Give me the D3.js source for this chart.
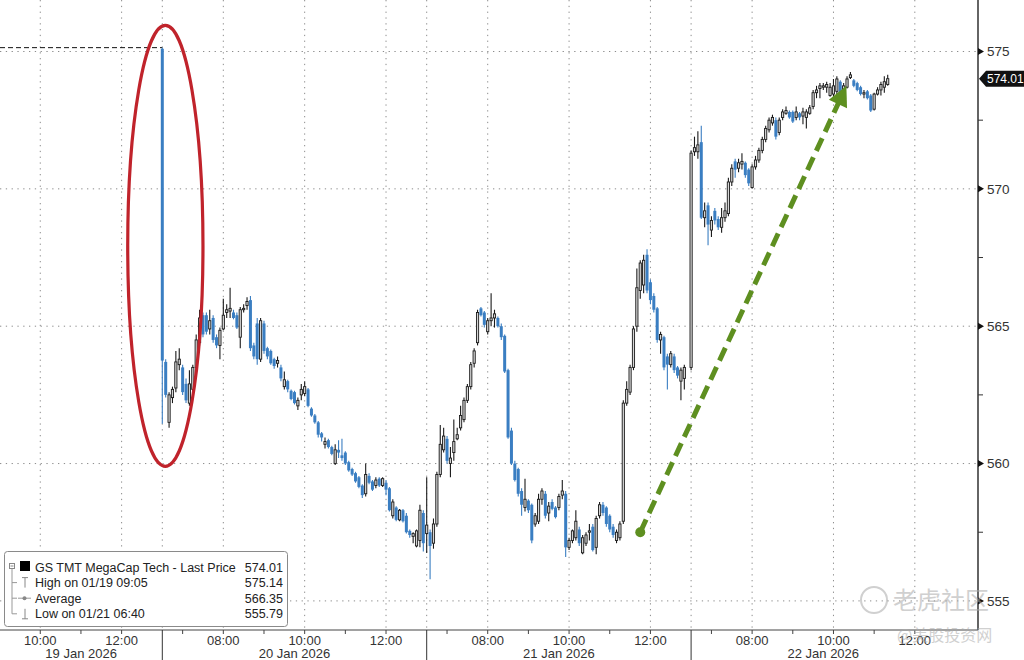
<!DOCTYPE html>
<meta charset="utf-8">
<style>
body { margin: 0; background: #fff; }
svg { display: block; font-family: "Liberation Sans", Arial, sans-serif; }
</style>
<body>
<script src="https://d3js.org/d3.v7.min.js"></script>
<script>

// sessions run 06:30 - 13:00 with 5 minute bars, t = minutes counted across sessions
var sessions = ["19 Jan 2026", "20 Jan 2026", "21 Jan 2026", "22 Jan 2026"];
var sessionMinutes = 390;
var barMinutes = 5;
var hourTicks = [7, 8, 9, 10, 11, 12];
var labelHours = [8, 10, 12];
var yTicks = [555, 560, 565, 570, 575];
var yMinorTicks = [557.5, 562.5, 567.5, 572.5];

// bars as [open, high, low, close]
var jan20 = [
  [575.10, 575.14, 561.45, 563.75], [563.7, 563.8, 562.4, 562.5], [561.5, 562.6, 561.3, 562.5], [562.4, 562.8, 562.2, 562.7],
  [562.75, 564.1, 562.6, 563.7], [563.6, 564.2, 563.4, 563.8], [563.5, 563.6, 562.5, 562.6], [562.9, 563.1, 562.2, 562.3],
  [562.2, 563.4, 562.1, 562.9], [562.7, 563.6, 562.6, 563.5], [563.5, 564.7, 563.4, 564.5], [564.4, 565.6, 564.3, 565.3],
  [565.4, 565.5, 564.6, 564.7], [565.4, 565.5, 564.7, 564.8], [564.9, 565.6, 564.7, 565.2], [565.3, 565.4, 564.4, 564.5],
  [564.6, 564.7, 564.2, 564.3], [564.3, 564.95, 563.8, 564.85], [564.9, 566.0, 564.85, 565.4], [565.5, 565.8, 565.3, 565.6],
  [565.55, 566.4, 565.3, 565.65], [565.5, 565.6, 565.25, 565.3], [565.4, 565.5, 564.9, 564.95], [564.6, 565.7, 564.2, 565.6],
  [565.6, 565.8, 565.5, 565.65], [565.75, 566.05, 565.6, 565.9], [565.95, 566.1, 564.1, 564.2], [564.3, 564.4, 563.8, 563.9],
  [565.1, 565.3, 563.6, 563.8], [563.8, 565.3, 563.7, 565.2], [565.1, 565.2, 564.0, 564.1], [564.2, 564.25, 563.8, 563.9],
  [564.1, 564.15, 563.6, 563.65], [563.8, 563.85, 563.45, 563.55], [563.65, 563.9, 563.5, 563.75], [563.5, 563.6, 563.0, 563.1],
  [562.8, 563.35, 562.7, 563.05], [563.0, 563.05, 562.6, 562.7], [562.65, 562.7, 562.3, 562.35], [562.6, 562.65, 562.15, 562.2],
  [562.1, 562.4, 561.95, 562.3], [562.5, 562.9, 562.3, 562.7], [562.55, 563.0, 562.45, 562.8], [562.7, 562.75, 562.05, 562.1],
  [562.0, 562.05, 561.7, 561.75], [561.75, 561.8, 561.45, 561.5], [561.5, 561.55, 560.95, 561.05], [561.1, 561.15, 560.8, 560.95],
  [560.7, 560.95, 560.55, 560.8], [560.85, 560.9, 560.55, 560.6], [560.6, 560.65, 560.3, 560.35], [560.0, 560.7, 559.95, 560.5],
  [560.5, 560.85, 560.2, 560.4], [560.3, 560.9, 560.1, 560.2], [560.4, 560.45, 559.95, 560.0], [560.05, 560.1, 559.7, 559.75],
  [559.8, 559.85, 559.55, 559.6], [559.65, 559.7, 559.3, 559.35], [559.5, 559.55, 559.1, 559.15], [559.2, 559.25, 558.75, 558.85],
  [558.9, 560.0, 558.8, 559.6], [559.55, 559.65, 559.25, 559.3], [559.35, 559.4, 559.0, 559.05], [559.2, 559.5, 559.1, 559.4],
  [559.45, 559.5, 559.15, 559.2], [559.2, 559.5, 559.15, 559.45], [559.3, 559.4, 558.85, 559.05], [559.1, 559.15, 558.25, 558.3],
  [558.1, 558.7, 558.0, 558.6], [558.4, 558.45, 557.9, 557.95], [557.95, 558.35, 557.9, 558.3], [558.3, 558.35, 557.85, 557.9],
  [558.1, 558.2, 557.45, 557.5], [557.55, 557.6, 557.3, 557.4], [557.35, 557.5, 557.1, 557.45], [557.0, 557.6, 556.95, 557.55],
  [557.2, 558.5, 556.95, 558.3], [558.2, 558.3, 556.8, 557.1]
];

var jan21 = [
  [557.45, 559.5, 556.74, 557.76], [557.5, 557.6, 555.79, 557.0], [557.1, 558.0, 556.9, 557.8], [557.8, 559.7, 557.7, 559.6],
  [559.6, 561.4, 559.5, 560.7], [560.5, 561.3, 560.4, 561.0], [560.9, 561.0, 560.0, 560.1], [560.0, 560.6, 559.5, 560.2],
  [560.4, 561.6, 560.1, 560.8], [560.9, 561.3, 560.85, 561.05], [561.3, 562.1, 561.2, 561.75], [561.6, 562.4, 561.5, 562.3],
  [562.3, 562.9, 562.2, 562.8], [562.8, 563.7, 562.7, 563.6], [563.65, 564.2, 563.5, 564.1], [564.4, 565.6, 564.3, 565.5],
  [565.65, 565.7, 565.35, 565.4], [565.5, 565.55, 564.95, 565.05], [564.8, 565.3, 564.7, 565.2], [565.2, 566.2, 565.0, 565.3],
  [565.3, 565.6, 564.95, 565.45], [565.3, 565.35, 564.95, 565.0], [565.0, 565.1, 564.5, 564.6], [564.65, 564.7, 563.3, 563.35],
  [563.4, 563.45, 560.9, 560.95], [561.2, 561.3, 559.95, 560.0], [560.0, 560.1, 559.35, 559.4], [559.8, 559.85, 558.8, 558.9],
  [559.0, 559.1, 558.1, 558.5], [558.4, 559.45, 558.25, 558.7], [558.65, 558.7, 558.2, 558.3], [558.5, 558.55, 557.1, 557.2],
  [557.8, 558.2, 557.7, 558.1], [557.9, 558.9, 557.8, 558.7], [558.7, 559.1, 558.5, 559.0], [558.9, 559.0, 558.0, 558.1],
  [558.2, 558.6, 557.9, 558.45], [558.6, 558.7, 558.3, 558.35], [558.4, 558.45, 558.0, 558.05], [558.4, 558.9, 558.3, 558.8],
  [558.85, 559.4, 558.7, 559.0], [558.9, 559.0, 556.6, 556.95], [556.95, 557.3, 556.85, 557.2], [557.2, 557.6, 557.1, 557.55],
  [557.3, 558.3, 557.2, 557.9], [557.6, 557.7, 557.0, 557.1], [556.75, 557.4, 556.7, 557.3], [557.1, 557.5, 557.0, 557.4],
  [557.5, 557.8, 557.2, 557.55], [557.7, 557.8, 556.8, 556.85], [556.95, 558.1, 556.7, 558.0], [558.1, 558.6, 558.0, 558.5],
  [558.5, 558.6, 558.1, 558.2], [558.4, 558.45, 557.7, 557.8], [558.1, 558.15, 557.5, 557.6], [557.7, 557.8, 557.3, 557.4],
  [557.2, 557.6, 557.1, 557.5], [557.3, 557.9, 557.2, 557.8], [557.9, 562.3, 557.8, 562.2], [562.2, 563.0, 562.1, 562.7],
  [562.6, 563.6, 562.5, 563.5], [563.5, 565.0, 563.4, 564.9], [565.0, 567.1, 564.8, 566.4], [566.3, 567.4, 566.0, 567.3],
  [566.5, 567.6, 566.2, 567.4], [567.6, 567.8, 566.2, 566.3], [566.6, 566.7, 565.8, 565.95], [566.1, 566.2, 565.5, 565.6],
  [565.65, 565.7, 564.4, 564.5], [564.5, 564.8, 564.0, 564.7], [564.6, 564.65, 563.4, 563.5], [563.9, 564.0, 562.7, 563.6],
  [563.6, 564.1, 563.5, 564.0], [563.9, 564.0, 563.3, 563.4], [563.5, 563.55, 563.1, 563.2], [563.0, 563.5, 562.3, 563.4],
  [563.1, 563.6, 562.7, 563.5]
];

var jan22 = [
  [563.5, 571.4, 563.4, 571.3], [571.35, 571.9, 571.2, 571.5], [571.35, 572.1, 571.1, 571.6], [571.7, 572.3, 568.9, 568.95],
  [568.95, 569.5, 568.6, 569.2], [569.4, 569.5, 567.95, 568.7], [568.5, 569.0, 568.25, 568.85], [569.2, 569.3, 568.7, 568.85],
  [568.9, 569.0, 568.5, 568.6], [568.6, 569.3, 568.4, 568.95], [568.95, 569.5, 568.8, 569.2], [569.1, 570.4, 569.0, 570.25],
  [570.25, 570.9, 570.1, 570.75], [571.0, 571.1, 570.4, 570.7], [570.75, 571.1, 570.6, 570.95], [570.9, 571.3, 570.7, 571.0],
  [570.95, 571.0, 570.4, 570.5], [570.7, 570.75, 570.1, 570.2], [570.05, 570.9, 570.0, 570.8], [570.8, 571.2, 570.7, 571.05],
  [571.05, 571.5, 570.95, 571.4], [571.4, 571.9, 571.3, 571.8], [571.8, 572.3, 571.7, 572.2], [572.15, 572.6, 572.05, 572.5],
  [572.4, 572.7, 572.3, 572.6], [572.5, 572.6, 571.8, 571.9], [572.05, 572.6, 571.95, 572.5], [572.6, 572.9, 572.5, 572.8],
  [572.75, 573.0, 572.7, 572.85], [572.8, 572.85, 572.55, 572.6], [572.8, 572.85, 572.4, 572.45], [572.6, 573.0, 572.5, 572.8],
  [572.75, 572.8, 572.5, 572.6], [572.65, 572.95, 572.35, 572.8], [572.6, 572.9, 572.2, 572.8], [572.75, 573.05, 572.7, 572.95],
  [573.0, 573.6, 572.9, 573.5], [573.5, 573.75, 573.3, 573.6], [573.65, 573.85, 573.3, 573.75], [573.7, 573.85, 573.6, 573.75],
  [573.7, 573.9, 573.5, 573.8], [573.4, 573.85, 573.35, 573.7], [573.45, 574.0, 573.35, 573.75], [573.55, 574.1, 573.4, 574.0],
  [573.9, 573.95, 573.4, 573.5], [573.5, 573.85, 573.45, 573.75], [573.7, 574.1, 573.65, 574.0], [574.05, 574.25, 574.0, 574.15],
  [573.95, 574.0, 573.7, 573.75], [573.85, 573.9, 573.55, 573.6], [573.7, 573.75, 573.4, 573.45], [573.45, 573.6, 573.3, 573.5],
  [573.55, 573.6, 573.25, 573.3], [573.4, 573.45, 572.8, 572.85], [572.9, 573.5, 572.85, 573.45], [573.45, 573.7, 573.4, 573.6],
  [573.6, 573.9, 573.4, 573.8], [573.7, 574.1, 573.5, 573.9], [573.8, 574.15, 573.75, 574.01]
];

var legendLabels = ["GS TMT MegaCap Tech - Last Price", "High on 01/19 09:05", "Average", "Low on 01/21 06:40"];
var legendValues = [574.01, 575.14, 566.35, 555.79];
var lastPrice = 574.01;
var highPrice = 575.14;

// annotations, in chart units (t minutes, price)
var ellipseBox = { t0: 339, t1: 450, p0: 559.9, p1: 575.95 };
var arrowFrom = [1095, 557.5];
var arrowTo = [1399, 573.75];

var width = 1024, height = 660;
var plotRight = 978, plotBottom = 630;
var blue = "#3a7ec2";

var svg = d3.select("body").append("svg")
    .attr("width", width)
    .attr("height", height);

svg.append("rect").attr("width", width).attr("height", height).attr("fill", "#fff");

var x = d3.scaleLinear().domain([390, 1170]).range([162.3, 691.1]);
var y = d3.scaleLinear().domain([555, 575]).range([600.9, 51.5]);

// flatten bars
var bars = [];
[[1, jan20], [2, jan21], [3, jan22]].forEach(function(s) {
  s[1].forEach(function(d, i) {
    bars.push({ t: s[0] * sessionMinutes + i * barMinutes, o: d[0], h: d[1], l: d[2], c: d[3] });
  });
});

svg.append("defs").append("clipPath").attr("id", "plot")
  .append("rect").attr("width", plotRight).attr("height", plotBottom);

// grid
var grid = svg.append("g").attr("stroke", "#8c8c8c").attr("stroke-dasharray", "1.3,4.5");
yTicks.forEach(function(v) {
  grid.append("line").attr("x1", 0).attr("x2", plotRight).attr("y1", y(v)).attr("y2", y(v));
});
var vGrid = [];
sessions.forEach(function(name, s) {
  if (s > 0) vGrid.push(s * sessionMinutes);
  labelHours.forEach(function(h) { vGrid.push(s * sessionMinutes + h * 60 - 390); });
});
vGrid.forEach(function(t) {
  var px = x(t);
  if (px < 0 || px > plotRight) return;
  grid.append("line").attr("x1", px).attr("x2", px).attr("y1", 0).attr("y2", plotBottom);
});

// high marker
svg.append("line")
  .attr("x1", 0).attr("x2", x(390)).attr("y1", y(highPrice)).attr("y2", y(highPrice))
  .attr("stroke", "#111").attr("stroke-dasharray", "5,3");

// candles
var up = function(d) { return d.c >= d.o; };
var candles = svg.append("g").attr("clip-path", "url(#plot)")
  .selectAll("g").data(bars).enter().append("g");

candles.append("line")
  .attr("x1", function(d) { return x(d.t); })
  .attr("x2", function(d) { return x(d.t); })
  .attr("y1", function(d) { return y(d.h); })
  .attr("y2", function(d) { return y(d.l); })
  .attr("stroke", function(d) { return up(d) ? "#1a1a1a" : blue; })
  .attr("stroke-width", 1.1);

candles.append("rect")
  .attr("x", function(d) { return x(d.t) - (up(d) ? 1.1 : 1.5); })
  .attr("width", function(d) { return up(d) ? 2.2 : 3; })
  .attr("y", function(d) { return y(Math.max(d.o, d.c)); })
  .attr("height", function(d) { return Math.max(1, Math.abs(y(d.o) - y(d.c))); })
  .attr("fill", function(d) { return up(d) ? "#d6d6d6" : blue; })
  .attr("stroke", function(d) { return up(d) ? "#1a1a1a" : "none"; })
  .attr("stroke-width", 0.9);

// y axis
var yAxis = svg.append("g");
yAxis.append("line").attr("x1", plotRight).attr("x2", plotRight).attr("y1", 0).attr("y2", plotBottom)
  .attr("stroke", "#111").attr("stroke-width", 1.3);
yTicks.forEach(function(v) {
  var py = y(v);
  yAxis.append("path").attr("d", "M" + plotRight + "," + (py - 3.5) + "L" + (plotRight + 6) + "," + py + "L" + plotRight + "," + (py + 3.5) + "Z")
    .attr("fill", "#111");
  yAxis.append("text").attr("x", plotRight + 9).attr("y", py).attr("dy", "0.35em")
    .attr("font-size", 13.5).attr("fill", "#333").text(v);
});
yMinorTicks.forEach(function(v) {
  yAxis.append("line").attr("x1", plotRight).attr("x2", plotRight + 5).attr("y1", y(v)).attr("y2", y(v))
    .attr("stroke", "#333");
});

// last price tag
var ly = y(lastPrice);
svg.append("path")
  .attr("d", "M" + (plotRight + 1) + "," + ly + "L" + (plotRight + 8) + "," + (ly - 8) + "L1024," + (ly - 8) + "L1024," + (ly + 8) + "L" + (plotRight + 8) + "," + (ly + 8) + "Z")
  .attr("fill", "#111");
svg.append("text").attr("x", plotRight + 9).attr("y", ly).attr("dy", "0.36em")
  .attr("font-size", 12).attr("fill", "#fff").text(d3.format(".2f")(lastPrice));

// x axis
var xAxis = svg.append("g");
xAxis.append("line").attr("x1", 0).attr("x2", plotRight).attr("y1", plotBottom).attr("y2", plotBottom)
  .attr("stroke", "#444");
sessions.forEach(function(name, s) {
  var start = s * sessionMinutes;
  hourTicks.forEach(function(h) {
    var px = x(start + h * 60 - 390);
    if (px < 0 || px > plotRight) return;
    xAxis.append("line").attr("x1", px).attr("x2", px).attr("y1", plotBottom).attr("y2", plotBottom + 4)
      .attr("stroke", "#444");
    if (labelHours.indexOf(h) >= 0) {
      xAxis.append("text").attr("x", px).attr("y", plotBottom + 15).attr("text-anchor", "middle")
        .attr("font-size", 13).attr("fill", "#333").text(d3.format("02")(h) + ":00");
    }
  });
  if (s > 0) {
    xAxis.append("line").attr("x1", x(start)).attr("x2", x(start)).attr("y1", plotBottom).attr("y2", height)
      .attr("stroke", "#333");
  }
  var a = Math.max(0, x(start)), b = Math.min(plotRight, x(start + sessionMinutes));
  xAxis.append("text").attr("x", (a + b) / 2).attr("y", plotBottom + 28).attr("text-anchor", "middle")
    .attr("font-size", 13).attr("fill", "#333").text(name);
});

// annotations
var ex0 = x(ellipseBox.t0), ex1 = x(ellipseBox.t1), ey0 = y(ellipseBox.p1), ey1 = y(ellipseBox.p0);
svg.append("ellipse")
  .attr("cx", (ex0 + ex1) / 2).attr("cy", (ey0 + ey1) / 2)
  .attr("rx", (ex1 - ex0) / 2).attr("ry", (ey1 - ey0) / 2)
  .attr("fill", "none").attr("stroke", "#c0232b").attr("stroke-width", 3.2);

var green = "#5e8f20";
var ax0 = x(arrowFrom[0]), ay0 = y(arrowFrom[1]), ax1 = x(arrowTo[0]), ay1 = y(arrowTo[1]);
var len = Math.hypot(ax1 - ax0, ay1 - ay0), ux = (ax1 - ax0) / len, uy = (ay1 - ay0) / len;
var headLen = 20, headW = 10;
var bx = ax1 - ux * headLen, by = ay1 - uy * headLen;
svg.append("line")
  .attr("x1", ax0).attr("y1", ay0).attr("x2", bx + ux * 2).attr("y2", by + uy * 2)
  .attr("stroke", green).attr("stroke-width", 5).attr("stroke-dasharray", "14,7");
svg.append("circle").attr("cx", ax0).attr("cy", ay0).attr("r", 5).attr("fill", green);
svg.append("path")
  .attr("d", "M" + ax1 + "," + ay1 + "L" + (bx - uy * headW) + "," + (by + ux * headW) + "L" + (bx + uy * headW) + "," + (by - ux * headW) + "Z")
  .attr("fill", green);

// legend
var lg = svg.append("g");
lg.append("rect").attr("x", 4.5).attr("y", 551.5).attr("width", 283).attr("height", 75).attr("rx", 3)
  .attr("fill", "#fff").attr("stroke", "#8a8a8a");
var rowY = function(i) { return 567 + i * 15.6; };
lg.append("rect").attr("x", 9.5).attr("y", rowY(0) - 3.5).attr("width", 5).attr("height", 5)
  .attr("fill", "none").attr("stroke", "#888");
lg.append("line").attr("x1", 10.5).attr("x2", 13.5).attr("y1", rowY(0) - 1).attr("y2", rowY(0) - 1).attr("stroke", "#888");
lg.append("line").attr("x1", 12).attr("x2", 12).attr("y1", rowY(0) + 2).attr("y2", rowY(3)).attr("stroke", "#999");
lg.append("rect").attr("x", 20).attr("y", rowY(0) - 6).attr("width", 10).attr("height", 10).attr("fill", "#000");
[1, 2, 3].forEach(function(i) {
  lg.append("line").attr("x1", 12).attr("x2", 17).attr("y1", rowY(i)).attr("y2", rowY(i)).attr("stroke", "#999");
});
// high icon
lg.append("path").attr("d", "M22," + (rowY(1) - 5) + "H28M25," + (rowY(1) - 5) + "V" + (rowY(1) + 5))
  .attr("stroke", "#888").attr("fill", "none");
// average icon
lg.append("line").attr("x1", 18).attr("x2", 31).attr("y1", rowY(2)).attr("y2", rowY(2)).attr("stroke", "#999");
lg.append("circle").attr("cx", 24.5).attr("cy", rowY(2)).attr("r", 2).attr("fill", "#888");
// low icon
lg.append("path").attr("d", "M22," + (rowY(3) + 5) + "H28M25," + (rowY(3) + 5) + "V" + (rowY(3) - 5))
  .attr("stroke", "#888").attr("fill", "none");

legendLabels.forEach(function(label, i) {
  lg.append("text").attr("x", 35).attr("y", rowY(i)).attr("dy", "0.36em")
    .attr("font-size", 12.5).attr("fill", "#222").text(label);
  lg.append("text").attr("x", 283).attr("y", rowY(i)).attr("dy", "0.36em").attr("text-anchor", "end")
    .attr("font-size", 12.5).attr("fill", "#222").text(d3.format(".2f")(legendValues[i]));
});

// watermarks
var wm = svg.append("g").attr("opacity", 0.55);
wm.append("circle").attr("cx", 874).attr("cy", 600).attr("r", 13).attr("fill", "none")
  .attr("stroke", "#aaa").attr("stroke-width", 2);
wm.append("text").attr("x", 893).attr("y", 609).attr("font-size", 24)
  .attr("font-family", "'Noto Sans CJK SC'").attr("fill", "#aaa").text("老虎社区");
wm.append("text").attr("x", 897).attr("y", 641).attr("font-size", 16)
  .attr("font-family", "'Noto Sans CJK SC'").attr("fill", "#aaa").text("@美股投资网");

</script>
</body>
